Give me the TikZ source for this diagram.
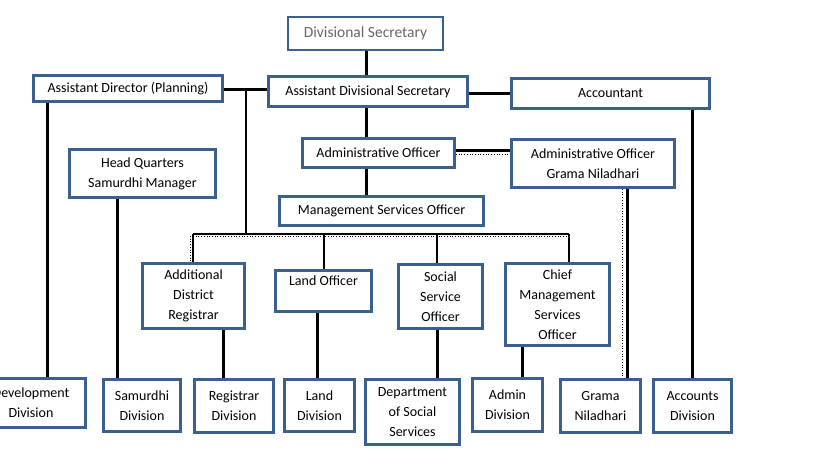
\documentclass[tikz,border=0pt]{standalone}
\usepackage{fontspec}
\setmainfont{Carlito}
\definecolor{boxblue}{HTML}{3B5F8E}
\definecolor{dsgray}{HTML}{666666}
\tikzset{
  x=1pt, y=1pt,
  orgbox/.style={draw=boxblue, line width=3pt, fill=white, align=center, inner sep=1pt,
     font=\fontsize{14}{20}\selectfont},
  topbox/.style={orgbox, line width=2pt, text=dsgray, font=\fontsize{15.5}{20}\selectfont},
  link/.style={line width=3pt, black},
  thinlink/.style={line width=2.4pt, black},
  dotlink/.style={line width=0.7pt, black, dotted},
}
\begin{document}
\begin{tikzpicture}
\useasboundingbox (0,0) rectangle (819,-460);
\clip (0,0) rectangle (819,-460);

% top structure
\node[topbox, minimum width=155pt, minimum height=33pt] (ds) at (365.5,-33.5) {Divisional Secretary};
\node[orgbox, minimum width=189pt, minimum height=26pt] (adp) at (128,-88.5) {Assistant Director (Planning)};
\node[orgbox, minimum width=199pt, minimum height=30pt] (ads) at (368,-91.5) {Assistant Divisional Secretary};
\node[orgbox, minimum width=198pt, minimum height=30pt] (acc) at (610.5,-93.5) {Accountant};
\node[orgbox, minimum width=152pt, minimum height=29pt] (ao) at (378.5,-153) {Administrative Officer};
\node[orgbox, minimum width=163pt, minimum height=48pt] (aogn) at (593,-163.5) {Administrative Officer\\Grama Niladhari};
\node[orgbox, minimum width=146pt, minimum height=48pt] (hq) at (142.5,-173.5) {Head Quarters\\Samurdhi Manager};
\node[orgbox, minimum width=204pt, minimum height=29pt] (mso) at (381.5,-211) {Management Services Officer};

% middle row
\node[orgbox, minimum width=102pt, minimum height=65pt] (adr) at (193.5,-296) {Additional\\District\\Registrar};
\node[orgbox, minimum width=96pt, minimum height=41pt] (lo) at (323.5,-291) {Land Officer\\\mbox{}};
\node[orgbox, minimum width=84pt, minimum height=64pt] (sso) at (440.5,-296.5) {Social\\Service\\Officer};
\node[orgbox, minimum width=104pt, minimum height=82pt] (cmso) at (557.5,-304.5) {Chief\\Management\\Services\\Officer};

% bottom row
\node[orgbox, minimum width=109pt, minimum height=49pt] (dev) at (31,-403) {Development\\Division};
\node[orgbox, minimum width=77pt, minimum height=52pt] (sam) at (142,-405.5) {Samurdhi\\Division};
\node[orgbox, minimum width=79pt, minimum height=53pt] (reg) at (234,-406) {Registrar\\Division};
\node[orgbox, minimum width=70pt, minimum height=52pt] (land) at (319.5,-405.5) {Land\\Division};
\node[orgbox, minimum width=94pt, minimum height=65pt] (dss) at (412.5,-412) {Department\\of Social\\Services};
\node[orgbox, minimum width=70pt, minimum height=53pt] (adm) at (507.5,-405) {Admin\\Division};
\node[orgbox, minimum width=80pt, minimum height=53pt] (gn) at (600.5,-406) {Grama\\Niladhari};
\node[orgbox, minimum width=78pt, minimum height=53pt] (accd) at (692.5,-406) {Accounts\\Division};

% junction coordinates
\coordinate (j1) at (246,-89);
\coordinate (bl) at (193,-234);
\coordinate (bj) at (246,-234);
\coordinate (br) at (569,-234);

% connectors
\draw[link] (ds.south -| 366,0) -- (ads.north -| 366,0);
\draw[link] (ads.south -| 366,0) -- (ao.north -| 366,0);
\draw[link] (ao.south -| 366,0) -- (mso.north -| 366,0);
\draw[link] (adp.east |- 0,-89) -- (ads.west |- 0,-89);
\draw[thinlink] (j1) -- (bj);
\draw[link] (ads.east |- 0,-93) -- (acc.west |- 0,-93);
\draw[link] (ao.east |- 0,-150) -- (aogn.west |- 0,-150);
\draw[dotlink] (ao.east |- 0,-154) -- (aogn.west |- 0,-154);
\draw[link] (adp.south -| 47,0) -- (dev.north -| 47,0);
\draw[link] (hq.south -| 117,0) -- (sam.north -| 117,0);
\draw[link] (aogn.south -| 627,0) -- (gn.north -| 627,0);
\draw[dotlink] (aogn.south -| 622.5,0) -- (gn.north -| 622.5,0);
\draw[link] (acc.south -| 692,0) -- (accd.north -| 692,0);
\draw[thinlink] (bl) -- (br);
\draw[dotlink] (bl |- 0,-236.5) -- (br |- 0,-236.5);
\draw[thinlink] (bl) -- (adr.north -| bl);
\draw[dotlink] (190,-236) -- (adr.north -| 190,0);
\draw[thinlink] (bl -| 324,0) -- (lo.north -| 324,0);
\draw[thinlink] (bl -| 437,0) -- (sso.north -| 437,0);
\draw[thinlink] (br) -- (cmso.north -| br);
\draw[link] (adr.south -| 223,0) -- (reg.north -| 223,0);
\draw[link] (lo.south -| 317,0) -- (land.north -| 317,0);
\draw[link] (sso.south -| 437,0) -- (dss.north -| 437,0);
\draw[link] (cmso.south -| 522,0) -- (adm.north -| 522,0);
\end{tikzpicture}
\end{document}
